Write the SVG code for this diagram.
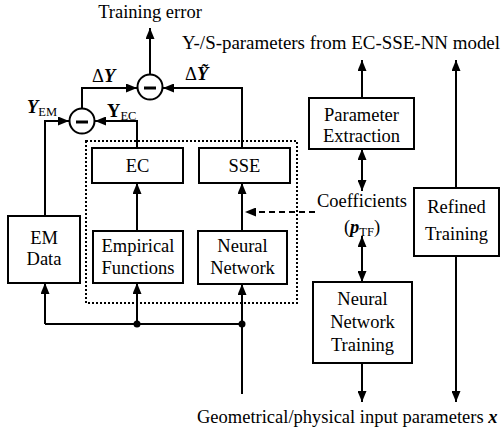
<svg xmlns="http://www.w3.org/2000/svg" width="502" height="437" viewBox="0 0 502 437">
<style>
text{font-family:"Liberation Serif","Times New Roman",serif;font-size:18.5px;fill:#000}
.box{fill:#fff;stroke:#000;stroke-width:2}
.ln{fill:none;stroke:#000;stroke-width:2}
.arr{fill:none;stroke:#000;stroke-width:2;marker-end:url(#ah)}
.bi{fill:none;stroke:#000;stroke-width:2;marker-end:url(#ah);marker-start:url(#ah)}
.c{text-anchor:middle}
.bi2{font-weight:bold;font-style:italic}
.sub{font-size:12.5px}
</style>
<defs>
<marker id="ah" markerUnits="userSpaceOnUse" markerWidth="11" markerHeight="9" refX="11" refY="4.5" orient="auto-start-reverse">
<path d="M0,0 L11,4.5 L0,9 z" fill="#000"/>
</marker>
</defs>
<rect x="86" y="141" width="211" height="162" fill="none" stroke="#000" stroke-width="2" stroke-dasharray="2,2"/>
<g id="connectors">
<line class="arr" x1="150" y1="74" x2="150" y2="28"/>
<polyline class="arr" points="82,108 82,88 137,88"/>
<polyline class="arr" points="242,148 242,88 163,88"/>
<polyline class="arr" points="45,216 45,121 69,121"/>
<polyline class="arr" points="137,148 137,121 95,121"/>
<line class="arr" x1="137" y1="231" x2="137" y2="183"/>
<line class="arr" x1="242" y1="231" x2="242" y2="183"/>
<line class="arr" x1="315" y1="212" x2="245" y2="212" stroke-dasharray="6,4"/>
<polyline class="ln" points="242,324 45,324"/>
<line class="arr" x1="45" y1="324" x2="45" y2="283"/>
<line class="arr" x1="137" y1="324" x2="137" y2="283"/>
<line class="arr" x1="242" y1="394" x2="242" y2="284"/>
<circle cx="137" cy="324" r="3.5" fill="#000"/>
<circle cx="242" cy="324" r="3.5" fill="#000"/>
<line class="arr" x1="362" y1="98" x2="362" y2="60"/>
<line class="bi" x1="362" y1="149" x2="362" y2="191"/>
<line class="bi" x1="362" y1="236" x2="362" y2="282"/>
<line class="arr" x1="362" y1="363" x2="362" y2="402"/>
<line class="arr" x1="456" y1="188" x2="456" y2="60"/>
<line class="arr" x1="456" y1="256" x2="456" y2="402"/>
</g>
<g id="sub1">
<circle cx="150" cy="87" r="12.5" fill="#fff" stroke="#000" stroke-width="2"/>
<line x1="144" y1="88" x2="156" y2="88" stroke="#000" stroke-width="3"/>
</g>
<g id="sub2">
<circle cx="82" cy="121" r="12.5" fill="#fff" stroke="#000" stroke-width="2"/>
<line x1="76" y1="122" x2="88" y2="122" stroke="#000" stroke-width="3"/>
</g>
<g id="labels">
<text x="150" y="18" class="c">Training error</text>
<text x="182" y="49" textLength="318" lengthAdjust="spacingAndGlyphs">Y-/S-parameters from EC-SSE-NN model</text>
<text x="92" y="82">Δ<tspan class="bi2">Y</tspan></text>
<text x="185" y="80">Δ<tspan class="bi2">Ỹ</tspan></text>
<text x="27" y="113"><tspan class="bi2">Y</tspan><tspan class="sub" dy="3">EM</tspan></text>
<text x="107" y="117"><tspan font-weight="bold">Y</tspan><tspan class="sub" dy="3">EC</tspan></text>
<text x="197" y="423">Geometrical/physical input parameters <tspan class="bi2">x</tspan></text>
</g>
<g id="ec">
<rect class="box" x="92" y="148" width="91" height="35"/>
<text x="137.5" y="172" class="c">EC</text>
</g>
<g id="sse">
<rect class="box" x="199" y="148" width="91" height="35"/>
<text x="244.5" y="172" class="c">SSE</text>
</g>
<g id="emdata">
<rect class="box" x="8" y="216" width="72" height="67"/>
<text x="44" y="244" class="c">EM</text>
<text x="44" y="265" class="c">Data</text>
</g>
<g id="empirical">
<rect class="box" x="93" y="231" width="90" height="52"/>
<text x="138" y="252" class="c">Empirical</text>
<text x="138" y="274" class="c">Functions</text>
</g>
<g id="neural">
<rect class="box" x="198" y="231" width="89" height="53"/>
<text x="242.5" y="252" class="c">Neural</text>
<text x="242.5" y="274" class="c">Network</text>
</g>
<g id="paramext">
<rect class="box" x="309" y="98" width="105" height="51"/>
<text x="361.5" y="121" class="c">Parameter</text>
<text x="361.5" y="142" class="c">Extraction</text>
</g>
<g id="coeff">
<text x="362" y="207" class="c">Coefficients</text>
<text x="362" y="233" class="c">(<tspan class="bi2">p</tspan><tspan class="sub" dy="3">TF</tspan><tspan dy="-3">)</tspan></text>
</g>
<g id="refined">
<rect class="box" x="414" y="188" width="85" height="68"/>
<text x="456.5" y="213" class="c">Refined</text>
<text x="456.5" y="240" class="c">Training</text>
</g>
<g id="nntrain">
<rect class="box" x="313" y="282" width="99" height="81"/>
<text x="362.5" y="305" class="c">Neural</text>
<text x="362.5" y="328" class="c">Network</text>
<text x="362.5" y="351" class="c">Training</text>
</g>
</svg>
